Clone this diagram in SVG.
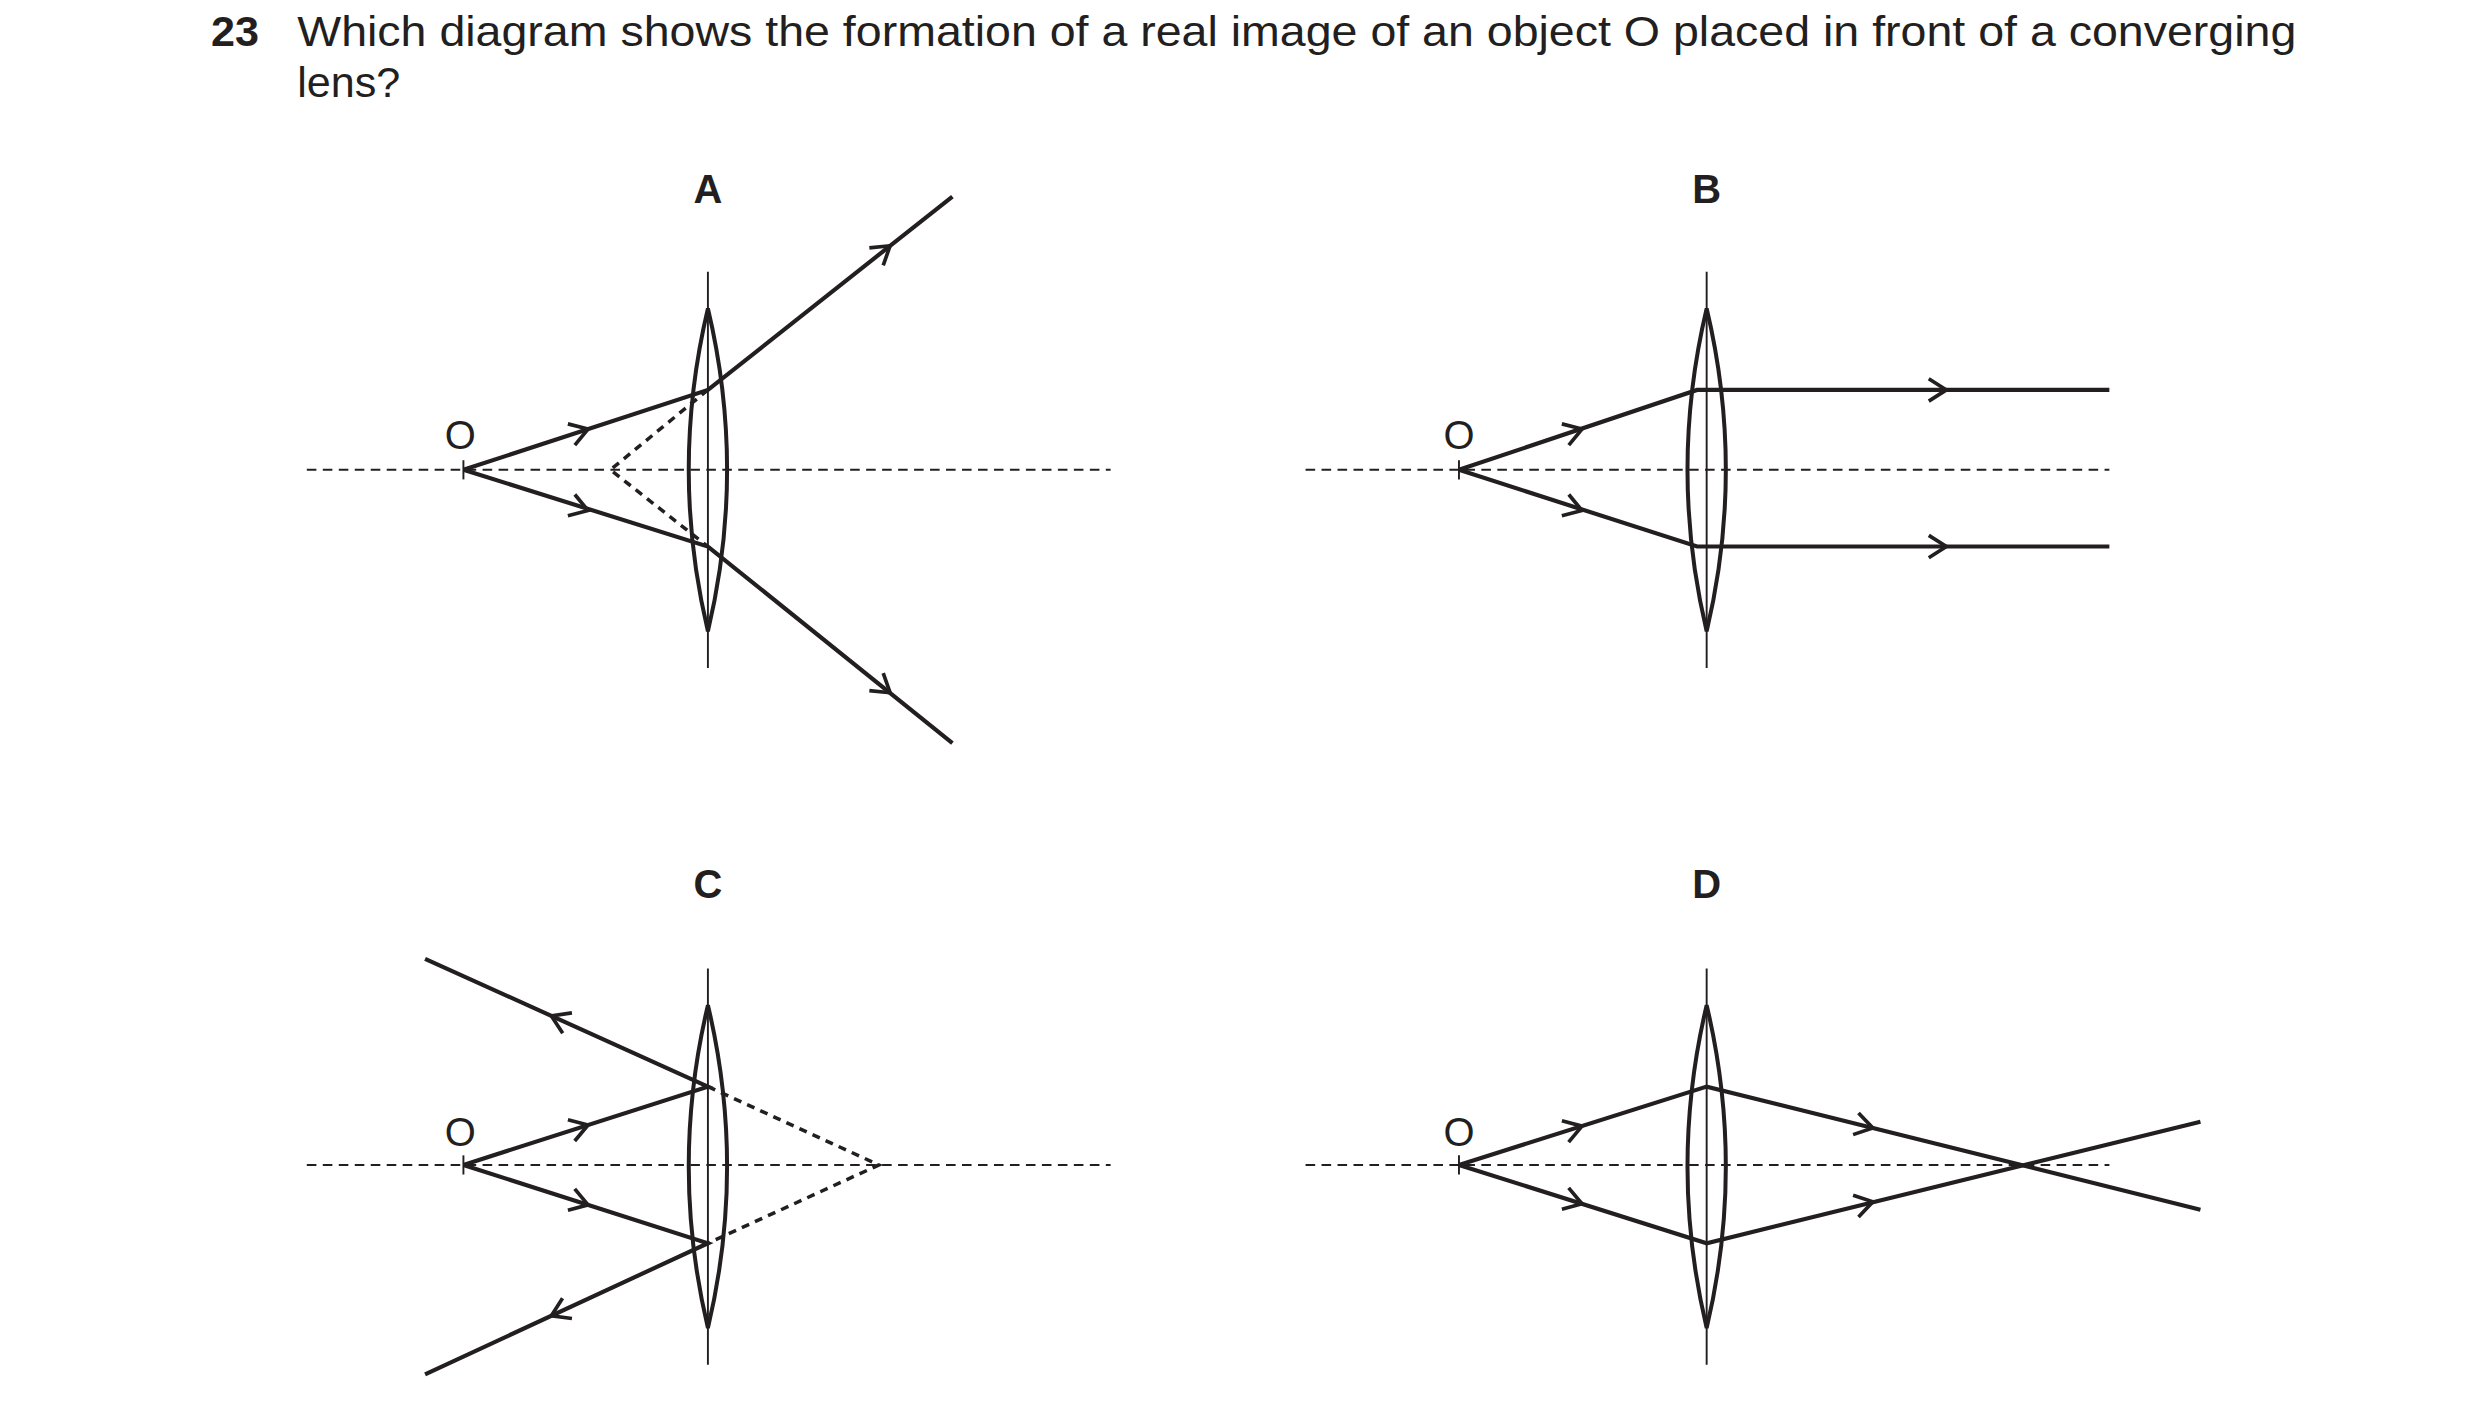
<svg xmlns="http://www.w3.org/2000/svg" width="2480" height="1405" viewBox="0 0 2480 1405">
<style>
.ray{fill:none;stroke:#231f20;stroke-width:2.6;stroke-linejoin:miter}
.thin{fill:none;stroke:#231f20;stroke-width:1.2}
.axis{fill:none;stroke:#231f20;stroke-width:1.2;stroke-dasharray:6,4}
.dash{fill:none;stroke:#231f20;stroke-width:2.2;stroke-dasharray:5,4}
.lbl{font-family:"Liberation Sans",Arial,sans-serif;font-weight:bold;font-size:25px;fill:#231f20;text-anchor:middle}
.o{font-family:"Liberation Sans",Arial,sans-serif;font-size:25px;fill:#231f20;text-anchor:middle}
.t{font-family:"Liberation Sans",Arial,sans-serif;font-size:27px;fill:#231f20}
</style>
<defs>
<path id="ah" d="M-11,-7 L0,0 L-11,7" fill="none" stroke="#231f20" stroke-width="2.3"/>
<g id="lens"><path d="M0,-101 Q24,0 0,101 Q-24,0 0,-101Z" fill="none" stroke="#231f20" stroke-width="2.5"/><line x1="0" y1="-124" x2="0" y2="124" stroke="#231f20" stroke-width="1.2"/></g>
</defs>
<rect width="2480" height="1405" fill="#fff"/>
<g transform="scale(1.598)">
<g id="title">
<text class="t" x="132" y="29" font-weight="bold">23</text>
<text class="t" x="186" y="29" textLength="1251" lengthAdjust="spacingAndGlyphs">Which diagram shows the formation of a real image of an object O placed in front of a converging</text>
<text class="t" x="186" y="61">lens?</text>
</g>
<g id="diagramA">
<text class="lbl" x="443" y="127">A</text>
<line class="axis" x1="192" y1="294" x2="695" y2="294"/>
<use href="#lens" transform="translate(443,294)"/>
<line class="thin" x1="290" y1="288" x2="290" y2="300"/>
<text class="o" x="288" y="281">O</text>
<g id="connectorsA">
<polyline class="ray" points="290,294 443,244 596,123"/>
<polyline class="ray" points="290,294 443,342 596,465"/>
<polyline class="dash" points="443,244 382,294 443,342"/>
<use href="#ah" transform="translate(368,268.5) rotate(-18.1)"/>
<use href="#ah" transform="translate(368,319.5) rotate(18.1)"/>
<use href="#ah" transform="translate(557,153.8) rotate(-38.3)"/>
<use href="#ah" transform="translate(557,433.5) rotate(38.3)"/>
</g>
</g>
<g id="diagramB">
<text class="lbl" x="1068" y="127">B</text>
<line class="axis" x1="817" y1="294" x2="1320" y2="294"/>
<use href="#lens" transform="translate(1068,294)"/>
<line class="thin" x1="913" y1="288" x2="913" y2="300"/>
<text class="o" x="913" y="281">O</text>
<g id="connectorsB">
<polyline class="ray" points="913,294 1062,244 1320,244"/>
<polyline class="ray" points="913,294 1062,342 1320,342"/>
<use href="#ah" transform="translate(990,268.5) rotate(-18.1)"/>
<use href="#ah" transform="translate(990,319.5) rotate(18.1)"/>
<use href="#ah" transform="translate(1218,244)"/>
<use href="#ah" transform="translate(1218,342)"/>
</g>
</g>
<g id="diagramC">
<text class="lbl" x="443" y="562">C</text>
<line class="axis" x1="192" y1="729" x2="695" y2="729"/>
<use href="#lens" transform="translate(443,730)"/>
<line class="thin" x1="290" y1="723" x2="290" y2="735"/>
<text class="o" x="288" y="717">O</text>
<g id="connectorsC">
<polyline class="ray" points="290,729 443,680 266,600"/>
<polyline class="ray" points="290,729 443,778 266,860"/>
<polyline class="dash" points="443,680 550,729 443,778"/>
<use href="#ah" transform="translate(368,704) rotate(-17.7)"/>
<use href="#ah" transform="translate(368,754) rotate(17.7)"/>
<use href="#ah" transform="translate(345,635.7) rotate(204.3)"/>
<use href="#ah" transform="translate(345,823.4) rotate(155.1)"/>
</g>
</g>
<g id="diagramD">
<text class="lbl" x="1068" y="562">D</text>
<line class="axis" x1="817" y1="729" x2="1320" y2="729"/>
<use href="#lens" transform="translate(1068,730)"/>
<line class="thin" x1="913" y1="723" x2="913" y2="735"/>
<text class="o" x="913" y="717">O</text>
<g id="connectorsD">
<polyline class="ray" points="913,729 1068,680 1377,757"/>
<polyline class="ray" points="913,729 1068,778 1377,702"/>
<use href="#ah" transform="translate(990,704.7) rotate(-17.5)"/>
<use href="#ah" transform="translate(990,753.3) rotate(17.5)"/>
<use href="#ah" transform="translate(1172,705.9) rotate(14)"/>
<use href="#ah" transform="translate(1172,752.1) rotate(-14)"/>
</g>
</g>
</g>
</svg>
